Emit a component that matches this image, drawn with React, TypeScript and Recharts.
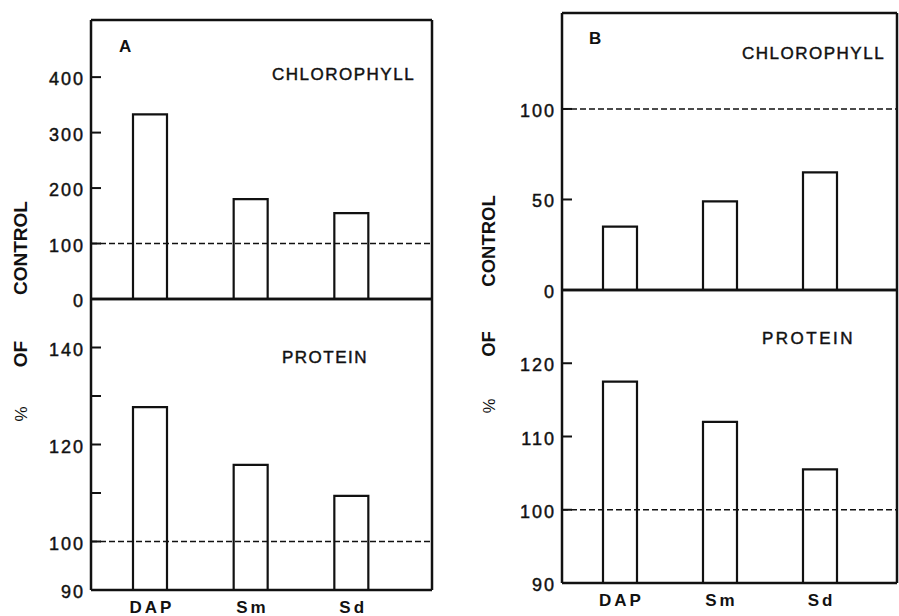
import { BarChart, Bar, XAxis, YAxis, ReferenceLine } from 'recharts'

const categories = ['DAP', 'Sm', 'Sd']
const chlorophyllA = [333, 180, 155]
const proteinA = [127.7, 115.8, 109.4]
const chlorophyllB = [35, 49, 65]
const proteinB = [117.5, 112, 105.5]

const chlTicksA = [0, 100, 200, 300, 400]
const protTicksA = [90, 100, 110, 120, 130, 140]
const protLabelsA = [90, 100, 120, 140]
const chlTicksB = [0, 50, 100]
const protTicksB = [90, 100, 110, 120]

const FONT = '"Liberation Sans", Arial, Helvetica, sans-serif'
const INK = '#111'
const AXIS_W = 60
const FRAME = { stroke: INK, strokeWidth: 2.5 }
// scanned print looks heavier than plain regular glyphs
const HEAVY = { stroke: INK, strokeWidth: 0.45 }

function YTick(props: any) {
  const { x, y, payload, labelled } = props
  const show = !labelled || labelled.includes(payload.value)
  return (
    <g>
      <line x1={x} x2={x + 10} y1={y} y2={y} stroke={INK} strokeWidth={2} />
      {show && (
        <text x={x - 6} y={y} dy={8} textAnchor="end" fontFamily={FONT} fontSize={18} letterSpacing={2} fill={INK} {...HEAVY}>
          {payload.value}
        </text>
      )}
    </g>
  )
}

function XTick(props: any) {
  const { x, y, payload } = props
  return (
    <text x={x} y={y} dx={1.5} dy={15} textAnchor="middle" fontFamily={FONT} fontSize={17} fontWeight="bold" letterSpacing={3} fill={INK}>
      {payload.value}
    </text>
  )
}

type SubProps = {
  values: number[]
  left: number
  top: number
  plotW: number
  plotH: number
  domain: [number, number]
  ticks: number[]
  labelled?: number[]
  showNames?: boolean
  pad: { left: number; right: number }
}

function SubChart({ values, left, top, plotW, plotH, domain, ticks, labelled, showNames, pad }: SubProps) {
  const rows = categories.map((name, i) => ({ name, value: values[i] }))
  const xH = showNames ? 30 : 1
  const bottom = showNames ? 0 : 14
  return (
    <div style={{ position: 'absolute', left: left - AXIS_W, top: top - 3 }}>
      <BarChart
        width={AXIS_W + plotW + 3}
        height={plotH + 3 + xH + bottom}
        data={rows}
        margin={{ top: 2, right: 2, bottom, left: 0 }}
      >
        <XAxis
          dataKey="name"
          padding={pad}
          height={xH}
          interval={0}
          tickLine={false}
          axisLine={FRAME}
          tick={showNames ? (p: any) => <XTick {...p} /> : false}
        />
        <XAxis xAxisId="frame" orientation="top" type="number" domain={[0, 1]} height={1} tick={false} tickLine={false} axisLine={FRAME} />
        <YAxis
          type="number"
          domain={domain}
          ticks={ticks}
          interval={0}
          width={AXIS_W}
          tickSize={0}
          tickMargin={0}
          tickLine={false}
          axisLine={FRAME}
          tick={(p: any) => <YTick {...p} labelled={labelled} />}
        />
        <YAxis yAxisId="frame" orientation="right" type="number" domain={[0, 1]} width={1} tick={false} tickLine={false} axisLine={FRAME} />
        <ReferenceLine y={100} stroke={INK} strokeWidth={1.6} strokeDasharray="6 3" />
        <Bar dataKey="value" fill="none" stroke={INK} strokeWidth={2.2} barSize={34} isAnimationActive={false} />
      </BarChart>
    </div>
  )
}

function SideLabel({ x, ys, size }: { x: number; ys: number[]; size: number }) {
  const parts = ['CONTROL', 'OF', '%']
  return (
    <>
      {parts.map((t, i) => (
        <text
          key={t}
          x={x}
          y={ys[i]}
          transform={`rotate(-90 ${x} ${ys[i]})`}
          textAnchor="middle"
          fontFamily={FONT}
          fontSize={t === '%' ? size - 2 : size}
          fontWeight={t === '%' ? 'normal' : 'bold'}
          fill={INK}
        >
          {t}
        </text>
      ))}
    </>
  )
}

export default function App() {
  const padA = { left: 9, right: 30 }
  const padB = { left: 8, right: 27 }
  return (
    <div style={{ position: 'absolute', left: 0, top: 0, width: 899, height: 616, overflow: 'hidden', background: '#fff' }}>
      <SubChart values={chlorophyllA} left={91} top={20} plotW={341} plotH={279} domain={[0, 503]} ticks={chlTicksA} pad={padA} />
      <SubChart values={proteinA} left={91} top={299} plotW={341} plotH={291} domain={[90, 150]} ticks={protTicksA} labelled={protLabelsA} showNames pad={padA} />
      <SubChart values={chlorophyllB} left={562} top={13} plotW={335} plotH={277} domain={[0, 153]} ticks={chlTicksB} pad={padB} />
      <SubChart values={proteinB} left={562} top={290} plotW={335} plotH={293} domain={[90, 130]} ticks={protTicksB} showNames pad={padB} />
      <svg width={899} height={616} style={{ position: 'absolute', left: 0, top: 0, pointerEvents: 'none' }}>
        <text x={119} y={52} fontFamily={FONT} fontSize={17} fontWeight="bold" fill={INK}>A</text>
        <text x={272} y={80} fontFamily={FONT} fontSize={17} letterSpacing={1.5} fill={INK} {...HEAVY}>CHLOROPHYLL</text>
        <text x={282} y={363} fontFamily={FONT} fontSize={17} letterSpacing={1.5} fill={INK} {...HEAVY}>PROTEIN</text>
        <text x={589} y={44} fontFamily={FONT} fontSize={17} fontWeight="bold" fill={INK}>B</text>
        <text x={742} y={59} fontFamily={FONT} fontSize={17} letterSpacing={1.5} fill={INK} {...HEAVY}>CHLOROPHYLL</text>
        <text x={762} y={344} fontFamily={FONT} fontSize={17} letterSpacing={2.5} fill={INK} {...HEAVY}>PROTEIN</text>
        <SideLabel x={27} ys={[248, 354, 414]} size={19} />
        <SideLabel x={495} ys={[241, 344, 406]} size={18.5} />
      </svg>
    </div>
  )
}
